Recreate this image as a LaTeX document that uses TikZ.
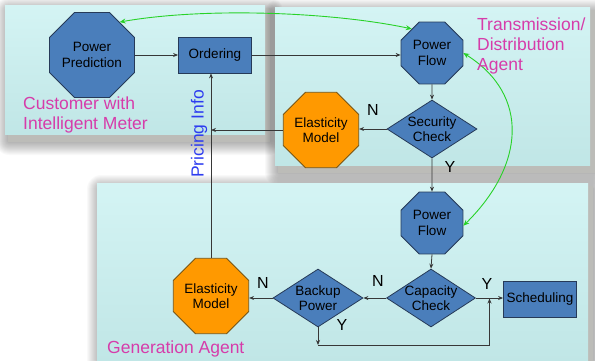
\documentclass[tikz,border=0pt]{standalone}
\usepackage{fontspec}
\setmainfont{Liberation Sans}
\usetikzlibrary{shapes.geometric,arrows.meta,calc}
\definecolor{nodeblue}{RGB}{74,126,187}
\definecolor{nodeedge}{RGB}{38,58,88}
\definecolor{octorange}{RGB}{255,153,0}
\definecolor{orangeedge}{RGB}{120,85,20}
\definecolor{paneltop}{RGB}{212,244,244}
\definecolor{panelbot}{RGB}{192,230,230}
\definecolor{lblmag}{RGB}{214,60,170}
\definecolor{lblblue}{RGB}{45,60,240}
\definecolor{linkgreen}{RGB}{40,210,40}
\definecolor{linegray}{RGB}{55,55,55}
\definecolor{shadowgray}{RGB}{188,188,184}
\newcommand\softshadow[4]{%
  \foreach \k in {1,...,14}{%
    \fill[black, opacity=0.022, rounded corners=\k pt] (#1-\k+4, #2-\k+6) rectangle (#3+\k+4, #4+\k+7);}%
  \fill[shadowgray] (#1+3, #2+3) rectangle (#3+5, #4+8);}
\begin{document}
\begin{tikzpicture}[x=1pt,y=-1pt,
  nodefont/.style={font=\fontsize{13.5}{15.5}\selectfont},
  oct/.style={regular polygon, regular polygon sides=8, draw=nodeedge, fill=nodeblue,
    inner sep=0pt, align=center, nodefont, line width=0.8pt, text=black},
  octo/.style={oct, fill=octorange, draw=orangeedge},
  boxnode/.style={rectangle, draw=nodeedge, fill=nodeblue, minimum width=73pt,
    minimum height=36pt, inner sep=0pt, nodefont, line width=0.8pt},
  dia/.style={diamond, draw=nodeedge, fill=nodeblue, minimum width=90pt,
    minimum height=58pt, inner sep=0pt, line width=0.8pt},
  dialbl/.style={nodefont, align=center, inner sep=0pt},
  panel/.style={top color=paneltop, bottom color=panelbot},
  flow/.style={draw=linegray, line width=0.8pt, -{Stealth[length=5pt,width=4pt]}},
  yn/.style={font=\fontsize{16}{18}\selectfont, inner sep=0pt},
  agentlbl/.style={font=\fontsize{17.5}{20}\selectfont, text=lblmag, align=left, inner sep=0pt},
  green/.style={draw=linkgreen, line width=0.9pt, {Stealth[length=6pt,width=5pt]}-{Stealth[length=6pt,width=5pt]}}
]
\useasboundingbox (0,0) rectangle (595,360);
\fill[white] (0,0) rectangle (595,360);

% panels with soft shadows
\softshadow{5}{5}{265}{134}
\fill[panel] (5,5) rectangle (265,134);
\softshadow{275}{7}{590}{165}
\fill[panel] (275,7) rectangle (590,165);
\softshadow{97}{183}{588}{362}
\fill[panel] (97,183) rectangle (588,362);

% nodes
\node[oct, minimum size=79pt] (pp) at (92,55) {Power\\Prediction};
\node[boxnode] (ord) at (215,55) {Ordering};
\node[oct, minimum size=67pt] (pf1) at (432,53) {Power\\Flow};
\node[dia, label={[dialbl]center:Security\\Check}] (sc) at (432,129) {};
\node[octo, minimum size=73pt] (em1) at (321,130) {Elasticity\\Model};
\node[oct, minimum size=67pt] (pf2) at (432,223) {Power\\Flow};
\node[dia, minimum width=89pt, label={[dialbl]center:Capacity\\Check}] (cc) at (431,298) {};
\node[boxnode] (sch) at (540,299) {Scheduling};
\node[dia, label={[dialbl]center:Backup\\Power}] (bp) at (318,298) {};
\node[octo, minimum size=73pt] (em2) at (211,296) {Elasticity\\Model};

\coordinate (bpd) at (318,345);
\coordinate (jn) at ($(cc.east)!0.5!(sch.west)$);

% connectors
\draw[flow] (pp.east |- ord.west) -- (ord.west);
\draw[flow] (ord.east) -- (pf1.west |- ord.east);
\draw[flow] (pf1.south) -- (sc.north);
\draw[flow] (sc.west) -- (sc.west -| em1.east);
\draw[flow] (em1.west) -- (em1.west -| em2.north);
\draw[flow] (em2.north) -- (em2.north |- ord.south);
\draw[flow] (sc.south) -- (pf2.north);
\draw[flow] (pf2.south) -- (cc.north);
\draw[flow] (cc.west) -- (bp.east);
\draw[flow] (cc.east) -- (cc.east -| sch.west);
\draw[flow] (bp.west) -- (bp.west -| em2.east);
\draw[flow] (bp.south) -- (bpd);
\draw[flow] (bpd) -| (jn);

% green links
\draw[green] (pp.50) .. controls +(85,-15) and +(-80,-17) .. (pf1.130);
\draw[green] (pf2.-5) .. controls (525,165) and (530,95) .. (pf1.0);

% Y/N labels
\node[yn] (n1) at (373,110) {N};
\node[yn] (y1) at (450,167) {Y};
\node[yn] (n2) at (378,281) {N};
\node[yn] (y2) at (487,284) {Y};
\node[yn] (n3) at (263,283) {N};
\node[yn] (y3) at (342,325) {Y};

% agent labels
\node[agentlbl, anchor=north west] (cust) at (23,97) {Customer with\\Intelligent Meter};
\node[agentlbl, anchor=north west] (trans) at (477,18) {Transmission/\\Distribution\\Agent};
\node[agentlbl, anchor=base west] (gen) at (107,353) {Generation Agent};
\node[font=\fontsize{17.5}{20}\selectfont, text=lblblue, rotate=90, inner sep=0pt] (pi) at (199,134) {Pricing Info};
\end{tikzpicture}
\end{document}
